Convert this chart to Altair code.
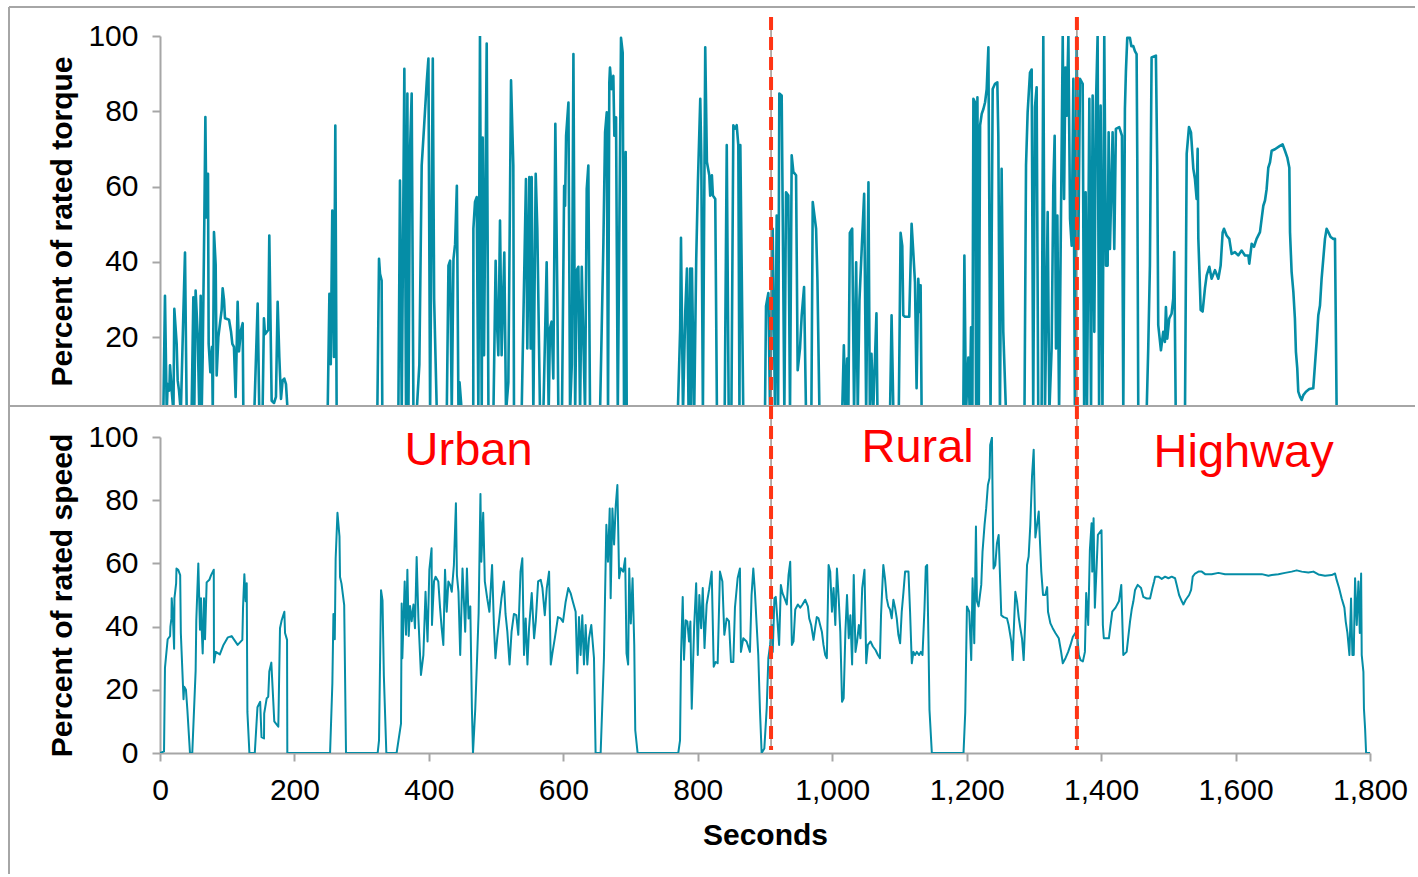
import altair as alt
import pandas as pd

# ---------------- data ----------------
# (seconds, percent of rated speed)
speed_points = [
    (0,0),(6,0.5),(7.4,27),(11.4,36),(15,37),(15.5,40),(17,42.6),(17.4,49),(19,44),(21,33),(21.5,49),
    (24,53.7),(24.5,58.4),(27,58),(30,56.3),(31,38),(35,17),(36,21),(38.6,20),(40.7,13.7),(44.6,0),(48,0),
    (53,26),(54,42),(57,60),(59.5,39),(61,49),(62,39.5),(63.5,31.5),(65.5,49),(67,36),(69.4,54),(73.4,54.8),
    (76,56.3),(80,58),(80.3,28.6),(83,32),(89,31.2),(94,34),(101,36.6),(106.6,37),(115.5,34.2),(122.5,35.8),
    (123.5,45.8),(125.5,56.6),(127.4,48),(129,53.7),(130,13),(133,0),(141,0),(145,14.5),(149,16.2),(151,5),
    (154.7,4.6),(155,12.5),(158.7,17.3),(161,17.8),(162.6,25.8),(165.6,28.6),(168.6,16),(170,10),(176,8.3),
    (178.5,39.5),(181,42),(185,44.7),(186,38),(189,35.8),(189.4,0),(253,0),(256.4,22),(258,44),(260,36),
    (261.3,61.5),(264,76),(267,68.5),(267.8,55.7),(270,53.6),(274,46.8),(276.7,0),(323.8,0),(325.8,4),
    (328.8,51.5),(331,48.3),(333,24.5),(336.7,0),(352,0),(358.5,9.3),(359.5,47.3),(360.5,30),(364,54.3),
    (366,37.4),(368,58),(370,37),(372,46.5),(374.4,41.7),(377,47),(379.3,39.5),(381.8,62),(384.4,42.6),
    (388.2,24.7),(391.8,31),(395,51),(398,35.3),(400.7,58),(404,64.8),(404.6,40.5),(407.6,54.3),(410,55.8),
    (414,54.3),(416.6,46),(419,39.5),(421.5,34.2),(424,58),(426.5,44.7),(429,54.3),(431.6,53.2),(434,51),
    (437.2,59.5),(440.2,79),(441.7,56.3),(444,51),(446.6,31),(450,58.4),(454,38.4),(456.6,58.4),(459,42.6),
    (461.6,46.4),(464,14),(465.6,0),(469,14),(471.7,30),(474,44.3),(476.7,82),(478,60.5),(480.8,76),
    (483.2,54.3),(486.7,49),(490,44.7),(494,59.5),(496.7,40.5),(499,30),(501.6,36.3),(505,43),(508,49),
    (511.6,54.3),(514,44),(516.7,38.4),(520,28),(523,38.4),(526.5,44),(530,43.6),(533,37.4),(536.3,57.4),
    (539,61.6),(541.5,31),(544,42.6),(546.6,28),(549,39.5),(553,50.6),(556.5,36.3),(559,41.7),(562.5,54.3),
    (566.4,54.8),(568.9,52.2),(572.4,43.6),(575.4,52.2),(578.8,57.4),(581.3,28),(583.7,31.5),(587.3,36.3),
    (589.6,39.5),(592,43),(596,42.6),(599.5,41.5),(603.4,47.8),(607.4,52.2),(610.8,50.6),(614.3,47.8),
    (618.3,44.7),(620.8,25.2),(623.3,43),(625.7,31),(628.2,43.6),(630.7,28),(633.2,40.5),(635.7,28),
    (638.2,36.3),(641.6,40.5),(645.6,30),(648,0),(655.5,0),(660.4,30),(662,49),(664,72.2),(666.4,60.5),
    (669,77.4),(670.4,49),(673,77.4),(675.5,66),(678,78.4),(680.4,84.8),(683,55.3),(685.4,58.5),(689,57.4),
    (692,61.6),(694,31.5),(696.4,28),(698,58.4),(700.4,41),(703,55.3),(705.5,34.2),(707,7.2),(710.5,0),
    (771,0),(773.6,4),(775.1,31),(777.6,49.4),(779.5,29.5),(782,42),(784.5,41.6),(787,35.3),(789,41.6),
    (791,14),(794.6,40),(797.6,53.7),(800,31),(802.3,50),(805,39.5),(807.4,52.2),(810,33.2),(813.2,47),
    (816.8,51.6),(820.7,57.4),(823.7,27.3),(826.6,28.8),(829.6,28.4),(833,57.4),(836.6,54.3),(839.5,37.4),
    (843,42.6),(846.4,41.7),(849.4,28.8),(852.9,28.8),(855.3,46),(859.3,55.3),(862.7,58.4),(864.2,32),
    (867.7,36.3),(872.6,35.3),(877.6,32),(880,50),(882.6,58.4),(885,51),(887.6,40.5),(890,31),(892.6,13),
    (895,0),(899,1.4),(902.5,14),(905,30),(907.6,34.2),(910,40.5),(911.5,32),(914,49),(916,49.4),
    (918.6,41.6),(921,34.2),(923.6,53.2),(926,50.6),(929,49),(932.4,47),(935,56.3),(937.5,60.5),(940,34.2),
    (942.4,35.3),(945,45.4),(948.9,47),(952.4,46),(955.8,47),(959.8,48.5),(963.8,46.4),(965.8,42.6),
    (968.7,40.5),(972.2,35.8),(974.6,39.5),(977,43),(979.6,42.6),(982,40.5),(984.6,38.4),(987,34.2),
    (989.6,31),(992,30),(994.6,59.5),(997,57.4),(999.6,44.7),(1002,52.2),(1004.6,40.5),(1007,58.4),
    (1009.6,49),(1012,38.4),(1014.6,16.2),(1017,17.3),(1019.6,38.4),(1022,50),(1024.6,36.3),(1027,43.6),
    (1029.6,28),(1032,56.3),(1034.6,32),(1037,35.3),(1039.6,40.5),(1042,36.3),(1044.6,52.2),(1048,58),
    (1050.6,28.4),(1053,34.2),(1057,35.3),(1060.5,33.7),(1064.4,32.6),(1068,31),(1071,30),(1072.6,43.6),
    (1076,59.5),(1078.5,55.3),(1081,49),(1083.5,46.4),(1086,45.4),(1088.5,42.6),(1091,48.5),(1093.5,46),
    (1096,42.6),(1098.4,37.4),(1101,34.7),(1103.4,44.7),(1106,51),(1108.4,57.4),(1113.4,57.4),(1115.8,44.7),
    (1118.4,28.4),(1120.8,32),(1123.3,31),(1125.8,32),(1129.3,31),(1131.8,32),(1134.3,31),(1137.2,45.4),
    (1139.2,59),(1141.2,59.5),(1143.2,35.3),(1144.7,13.6),(1148.2,0),(1195.3,0),(1197.9,13),(1200.4,46.4),
    (1203.8,44.7),(1206.8,29.4),(1208.8,55.3),(1211.3,34.7),(1213.8,71.7),(1215.3,48),(1217.7,46.4),
    (1221.7,53.2),(1223.6,63.7),(1226.6,72.2),(1229,77.4),(1231.6,84.8),(1234,87),(1235,97.5),(1237.6,99.8),
    (1239.2,69.6),(1240,58.4),(1242.6,59.5),(1245,66.3),(1247.6,69),(1251.5,43.6),(1255,43),(1260,42.6),
    (1262.4,40.5),(1266.4,35.3),(1268.4,29.4),(1270,38.4),(1272.4,51),(1274.9,48),(1277.4,43),(1279.8,39.5),
    (1282.3,36.3),(1284.8,29.4),(1287.3,42.6),(1289.8,59.5),(1292.2,62.2),(1294.7,72.2),(1297.2,87.5),
    (1299.7,96),(1302.2,68.2),(1304.7,72.2),(1307.2,76.4),(1308.6,69),(1311,57.4),(1313.6,50),(1317,50),
    (1319.7,52.5),(1321,44.7),(1324.6,41),(1328,39.5),(1332,38),(1337,36.3),(1340.5,32),(1343,28.4),
    (1347,30),(1351,32),(1354.5,34.2),(1358,36.8),(1361.9,38),(1364.4,37.4),(1366.9,31),(1369.4,29.4),
    (1372.9,29),(1375.9,32),(1377.8,50.6),(1380.8,40.5),(1383.3,64.3),(1385.8,72.7),(1386.8,57.4),
    (1388.8,74.3),(1390.7,46),(1393.2,58.4),(1395.2,69),(1400.6,70.5),(1402.6,40.5),(1404,36.3),
    (1411.6,36.3),(1414,40.5),(1416.6,44.7),(1421.5,46),(1426.5,48),(1430,53.2),(1433,31),(1438,32),
    (1440.5,36.8),(1443,41.6),(1445.5,45.4),(1448,48),(1450.5,51.6),(1454.4,53.2),(1459.4,52.2),
    (1462.8,49.4),(1467.8,48.9),(1472.8,48.9),(1476.3,52.2),(1478.8,54.3),(1480.3,55.8),(1485.2,55.8),
    (1490.2,55.1),(1495.2,55.8),(1500.1,55.3),(1505,55.8),(1510,55.3),(1512.5,53.2),(1516,50),(1520,48),
    (1522.4,47),(1525.9,48.5),(1530.9,50),(1533.9,51.6),(1536.3,55.8),(1539.8,56.8),(1544.8,57.4),
    (1549.7,57.4),(1554.7,56.6),(1564.6,56.6),(1574.5,57),(1584.4,56.6),(1599.3,56.6),(1619.1,56.6),
    (1639,56.6),(1648.9,56.1),(1653.8,56.3),(1663.7,56.6),(1673.6,57),(1683.5,57.4),(1691,57.8),
    (1698.4,57.4),(1708.3,57.1),(1715.8,57.4),(1723.2,56.5),(1733.1,56.1),(1743,56.3),(1748,56.8),
    (1750.5,54.7),(1754,52.2),(1757.9,48.9),(1761.9,46),(1763.9,41.6),(1766.4,38),(1769.4,31),(1771.8,48.9),
    (1773.8,31),(1775.8,31),(1777.8,55.3),(1780.3,40.5),(1782.8,54.3),(1784.8,38),(1786.8,56.8),
    (1787.7,31),(1790.2,25.7),(1791,14),(1792.7,7.7),(1794.2,0),(1800,0),
]

# (seconds, percent of rated torque)
torque_points = [
    (0,0),(5,0),(7.4,31),(10,0),(11.4,7.5),(13.9,5.8),(14.9,12.5),(17.4,5.8),(20,0),(21.3,27.5),(24.8,18.2),
    (26.3,8.5),(28.3,5.8),(31,0),(34.7,26),(37.2,42.5),(39.7,0),(47,0),(49.6,30.6),(51,0),(53,32.4),
    (56,20.8),(58.5,0),(60.5,31),(62,0),(63.5,14.7),(66,51.8),(67.5,78.5),(69,51.8),(70,63.4),(71.4,63.4),
    (72.4,18.2),(74.9,10.7),(77.4,17.4),(78.5,0),(80.3,47.9),(82.8,39.3),(84.3,9.8),(86.8,20),(89.3,23.7),
    (91.7,27.2),(93.2,33),(95.2,29.9),(96.7,25),(102.7,24.6),(105.6,21.5),(107.6,18.2),(110,17.4),
    (112.5,4.1),(115.5,29.4),(117.5,16.2),(120.5,21.9),(123,23.7),(124,0),(140.3,0),(142.8,14.7),
    (145.3,28.9),(147.7,0),(152.6,0),(154.6,25),(156.2,20.8),(161,21.9),(162.6,47),(165,16.9),(166.1,3.1),
    (169.6,2.5),(172.5,4.1),(175,29.4),(177.5,14.7),(180,3.6),(182.4,8.5),(184.9,9),(187.4,7.5),(190,0),
    (249.4,0),(252,31.5),(254,12.8),(256.3,53.6),(258.8,14.7),(260.8,76.2),(262.8,0),(323.3,0),(325.8,40.8),
    (327.3,36.8),(329.7,35),(330.7,0),(354.6,0),(357,61.6),(359.6,0),(363.5,91.3),(366,0),(368,84.7),
    (369.6,0),(372,70),(374.4,84.7),(377,0),(381.8,0),(385.8,12.7),(389.3,65.6),(392.8,75.8),(396.8,87.8),
    (399.3,94),(401.8,0),(405.8,94),(407.8,30.2),(411.8,0),(426.6,0),(429.1,39),(431.6,40.3),(434,0),
    (436.6,40.8),(439,44.7),(441.6,60.2),(444,0),(445.6,8),(449,0),(466,0),(466.2,48.8),(468.6,55.9),
    (471.1,57.2),(473.6,0),(476,100),(478.6,0),(480,73),(482,15.2),(486,98),(488.6,0),(496,0),(499.3,40.3),
    (501,24.9),(503.3,15.2),(505.8,51),(508.2,15.2),(512.2,42.5),(514.7,0),(518.2,8),(522.2,88.2),
    (525.6,65.6),(526.6,0),(538,0),(544.4,62),(546.4,17),(549.4,62.5),(551.4,17),(552.9,62.5),(555.4,0),
    (558.9,63.4),(561.3,48.8),(565.3,0),(570.3,0),(575.2,39.9),(578.2,0),(580.1,22.3),(582.6,24.1),
    (585.1,9),(588.1,76.7),(591,32),(592.6,0),(598,0),(601.2,60.2),(602.6,54.9),(604.1,73.5),(607.6,82.3),
    (610,0),(612.6,12.7),(615,95.2),(617.6,0),(620,37.8),(622.4,38.7),(624.9,0),(627.4,38.7),(629.8,19.2),
    (632.3,0),(634.8,59.3),(637.2,65.6),(639.7,0),(654.6,0),(657.1,22.3),(659.6,45.1),(662.1,74.4),
    (664.6,79.7),(666.5,0),(668.4,87.6),(669.4,91.6),(671.9,85.9),(674.4,89.4),(675.9,73.5),(678.4,78.4),
    (681,0),(683.3,47.7),(685.8,99.5),(688.3,95.6),(690.3,0),(692.8,69.2),(694.3,0),(770.3,0),(773.8,22.3),
    (775,46.4),(776.3,27.2),(778,0),(781.4,26.8),(783.9,38.2),(786.3,0),(788.8,38.2),(790,0),(791.3,38.2),
    (794.7,0),(797.7,40.8),(800.2,61.2),(803.7,83.3),(805.2,68.3),(807.6,0),(811.1,97),(813.6,66.5),
    (817.1,63),(818.5,57.6),(821,63),(822.5,57.6),(826,56.7),(828.5,0),(840,0),(843.1,71),(846,0),(850,0),
    (852.9,76.3),(855.4,75.4),(857.9,76.3),(860.3,71),(862,0),(863.3,71),(867.7,0),(900,0),(901.5,28.2),
    (905,31.7),(907.5,0),(911.4,48.8),(914.9,0),(917.4,52.3),(919.5,0),(921.3,84.7),(924.8,84.2),
    (926.3,54.1),(928.8,0),(931.3,58.5),(934.7,57.6),(937.2,0),(939.7,68.3),(942.2,63.9),(946.2,63),
    (948.6,11.2),(952.1,17),(954.6,25.8),(958.1,33.3),(961,0),(969,0),(971,55.9),(976,48.8),(978,35.1),
    (981,0),(1014.8,0),(1017.3,17.8),(1019.5,0),(1022.2,14.3),(1024,0),(1026.2,47.7),(1029.7,48.8),
    (1032.5,0),(1035.6,39.9),(1038,0),(1040.5,29.7),(1044,44),(1047.5,58.1),(1050.5,0),(1053.9,61.1),
    (1056,0),(1058.4,15.6),(1061,0),(1065.8,26.3),(1067.3,0),(1086,0),(1088.3,25.8),(1091,0),(1099,0),
    (1101.7,47.7),(1104.2,44.2),(1105.7,25.8),(1108.2,25.4),(1114.6,25.4),(1118.1,50.1),(1120.6,42.6),
    (1123.1,34.6),(1125.5,6.4),(1128,35.5),(1130.5,26.7),(1131.5,33.8),(1133,0),(1195,0),(1196.6,41.7),
    (1199,0),(1202.5,14.6),(1204.5,0),(1206.5,22.6),(1208.5,0),(1210,83.3),(1212.4,82.4),(1214,0),
    (1216,83.7),(1218,0),(1220,76.3),(1222.4,79.3),(1224.9,80.6),(1227.4,82.4),(1229.8,85.9),(1232.3,97),
    (1235.5,0),(1238.7,85.9),(1242.2,87.3),(1245.6,87.7),(1247.1,73.5),(1249.5,0),(1252,64.7),(1254.5,21.4),
    (1258.5,0),(1286,0),(1288.3,65.6),(1290.7,79.7),(1294.2,90.3),(1296.7,91.1),(1299,0),(1301.6,81.1),
    (1304.1,86.4),(1306.5,0),(1311.5,0),(1314,100),(1316.5,0),(1320.5,53.2),(1323,0),(1326.4,17),
    (1328.9,60.2),(1330.9,73.5),(1332.9,17),(1334.9,52.3),(1337.5,0),(1342.9,100),(1344.9,56.7),
    (1346.9,91.6),(1348.8,78.8),(1351.3,100),(1353.8,51.4),(1356.2,44.3),(1358.7,88.6),(1361,0),
    (1363.6,100),(1366.1,43.4),(1368.6,88.6),(1372.6,87.3),(1374.8,0),(1377,58.5),(1379,0),(1382.5,83.3),
    (1385,0),(1387.4,84.2),(1389.9,21.4),(1392.3,81.5),(1394.8,100),(1397,0),(1399.3,81.5),(1402,0),
    (1404.7,100),(1407.2,39),(1409.7,39),(1411.2,74.4),(1413.1,43.4),(1417.1,74.4),(1419.6,43.4),
    (1422,75.3),(1427,75.8),(1431,73.5),(1433,0),(1435.4,80.6),(1436.9,90.6),(1438.9,99.5),(1442.9,99.5),
    (1445,97.3),(1447.9,97.3),(1450.3,96),(1452.8,95.2),(1453.8,67.4),(1455.3,0),(1467.7,0),(1470.1,17),
    (1472.6,39),(1475.1,94.3),(1481.5,94.8),(1483.5,65.6),(1485,23.2),(1489,16.5),(1492.4,21.4),
    (1494.9,18.7),(1496.4,28),(1498.4,19.6),(1501.3,24.9),(1504.8,26.2),(1507.3,30.2),(1508.8,42.6),
    (1511,0),(1524.8,0),(1527.3,68.7),(1530.7,75.8),(1533.7,74.4),(1537.2,64.7),(1539.6,62),(1542.1,56.7),
    (1543.6,70),(1544.6,46.3),(1547.1,33),(1548.1,27.2),(1551,26.8),(1554.5,33),(1557,36.4),(1561,38.7),
    (1564.4,35.5),(1569.4,37.8),(1574.4,35.5),(1577.8,39),(1580.8,47.8),(1582.8,48.8),(1586.7,47),
    (1590.7,46.1),(1594.2,42.1),(1599.1,42.6),(1604,41.7),(1609,43),(1614,41.7),(1619,41.7),(1620.4,39.5),
    (1624,44.8),(1627.4,44),(1631.3,46.1),(1636.3,47.9),(1638.8,51.4),(1641.3,54.9),(1643.8,56.3),
    (1646.2,59.3),(1648.7,65),(1651.2,66.4),(1653.7,69.5),(1658.6,69.9),(1666,70.8),(1670,71.2),
    (1673.5,69.5),(1677,67.7),(1680,65),(1681,47.9),(1683.4,37.3),(1686,32),(1688.3,24.9),(1689.8,16.1),
    (1691.8,11.7),(1693.3,5.5),(1695.8,4.2),(1698.3,3.3),(1700.8,4.6),(1704.7,5.5),(1709.7,6.2),
    (1715.6,6.4),(1718.1,12.6),(1720.6,18.8),(1723.1,25.8),(1725.6,28.4),(1728,35.5),(1730.5,40.8),
    (1733,46.1),(1735.5,48.8),(1738,47.9),(1741.4,46.6),(1745.4,46.1),(1747.9,46.1),(1750.4,0),(1800,0),
]

x_ticks = [0, 200, 400, 600, 800, 1000, 1200, 1400, 1600, 1800]
torque_ticks = [20, 40, 60, 80, 100]
speed_ticks = [0, 20, 40, 60, 80, 100]
boundaries = [909, 1364]
region_names = ["Urban", "Rural", "Highway"]
region_x = [459, 1127, 1612]
region_level = [91.1, 92.0, 90.6]

# ---------------- styling ----------------
TEAL = "#058DA6"
GRAY = "#A6A6A6"
RED_DASH = "#FF3414"
FONT = "Liberation Sans"
W = 1210
H_TOP = 370
H_BOT = 316

torque_df = pd.DataFrame(torque_points, columns=["t", "v"])
speed_df = pd.DataFrame(speed_points, columns=["t", "v"])
bound_df = pd.DataFrame({"t": boundaries})
region_df = pd.DataFrame({"name": region_names, "t": region_x, "v": region_level})
one = alt.Data(values=[{}])

xscale = alt.Scale(domain=[0, 1800], nice=False)


def hrule(y, x1=-151, x2=1255):
    return alt.Chart(one).mark_rule(color=GRAY, strokeWidth=2).encode(
        x=alt.value(x1), x2=alt.value(x2), y=alt.value(y))


def vrule(x, y1, y2):
    return alt.Chart(one).mark_rule(color=GRAY, strokeWidth=2).encode(
        x=alt.value(x), y=alt.value(y1), y2=alt.value(y2))


def boundary_rules(y1, y2):
    thin = alt.Chart(bound_df).mark_rule(color="#8E837C", strokeWidth=1.3).encode(
        x=alt.X("t:Q", scale=xscale), y=alt.value(y1), y2=alt.value(y2))
    dash = alt.Chart(bound_df).mark_rule(color=RED_DASH, strokeWidth=4, strokeDash=[13, 7]).encode(
        x=alt.X("t:Q", scale=xscale), y=alt.value(y1), y2=alt.value(y2))
    return thin + dash


torque_line = alt.Chart(torque_df).mark_line(
    color=TEAL, strokeWidth=2.6, clip=True, strokeJoin="round").encode(
    x=alt.X("t:Q", scale=xscale, axis=None),
    y=alt.Y("v:Q", scale=alt.Scale(domain=[1.7, 100], nice=False, zero=False),
            axis=alt.Axis(values=torque_ticks, title="Percent of rated torque")),
    order="t:Q",
)

top = alt.layer(
    torque_line,
    hrule(-29),
    vrule(-151, -29, 371),
    boundary_rules(-19, 370),
).properties(width=W, height=H_TOP)

speed_line = alt.Chart(speed_df).mark_line(
    color=TEAL, strokeWidth=2, clip=True, strokeJoin="round").encode(
    x=alt.X("t:Q", scale=xscale,
            axis=alt.Axis(values=x_ticks, format=",d", title="Seconds", labelFlush=False)),
    y=alt.Y("v:Q", scale=alt.Scale(domain=[0, 100], nice=False),
            axis=alt.Axis(values=speed_ticks, title="Percent of rated speed")),
    order="t:Q",
)

labels = alt.Chart(region_df).mark_text(
    color="#FF0000", font=FONT, fontSize=47, align="center", baseline="alphabetic").encode(
    x=alt.X("t:Q", scale=xscale),
    y=alt.Y("v:Q"),
    text="name:N",
)

bottom = alt.layer(
    speed_line,
    labels,
    hrule(-31),
    vrule(-151, -31, 437),
    boundary_rules(-31, 313),
).properties(width=W, height=H_BOT)

chart = alt.vconcat(top, bottom, spacing=31, bounds="flush").properties(
    padding={"left": 8, "top": 6, "right": 0, "bottom": 0}
).configure_view(strokeWidth=0).configure_axis(
    labelFont=FONT, labelFontSize=30, labelColor="#000000", labelPadding=14,
    titleFont=FONT, titleFontSize=30, titleFontWeight="bold", titleColor="#000000",
    domainColor=GRAY, domainWidth=2, tickColor=GRAY, tickWidth=2, tickSize=8,
    grid=False,
).configure_axisY(titlePadding=10).configure_axisX(titlePadding=15)

chart.save("out.html", embed_options={"renderer": "svg", "actions": False})
